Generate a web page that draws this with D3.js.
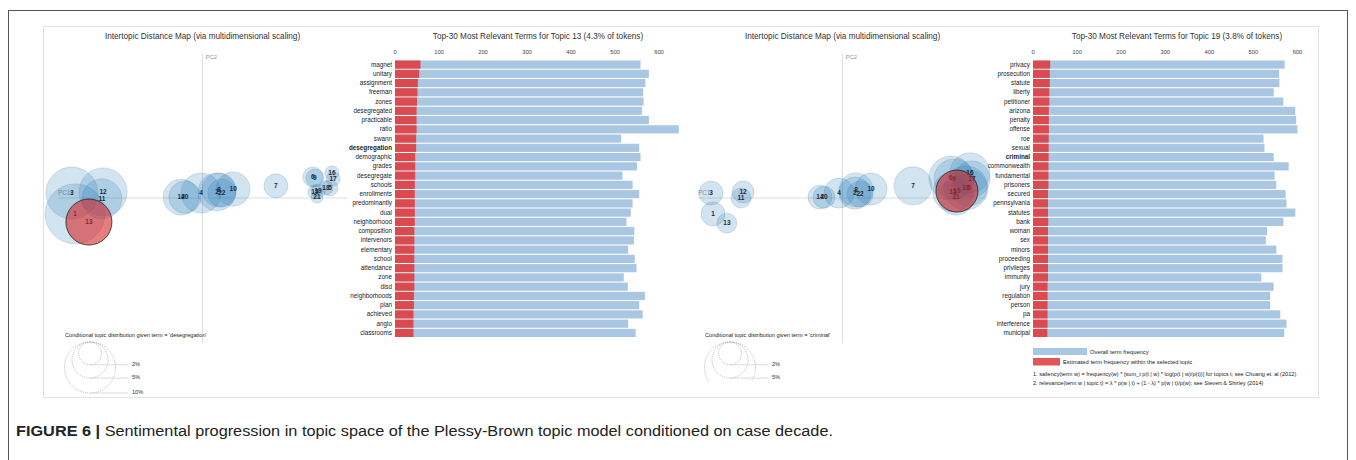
<!DOCTYPE html>
<html>
<head>
<meta charset="utf-8">
<script src="https://cdn.jsdelivr.net/npm/d3@7"></script>
<style>
  body { margin: 0; background: #fff; }
  svg { display: block; font-family: "Liberation Sans", Arial, Helvetica, sans-serif; }
</style>
</head>
<body>
<div id="chart"></div>
<script>
// Topic ids (same order in both maps)
const topicIds = [1, 2, 3, 4, 5, 6, 7, 8, 9, 10, 11, 12, 13, 14, 15, 16, 17, 18, 19, 20, 21, 22];

// Left map: PC1 / PC2 coordinates and relative topic size (% of tokens)
const leftPC1 = [-0.441, 0.050, -0.452, -0.005, 0.441, 0.382, 0.254, 0.057, 0.389, 0.106, -0.348,
                 -0.344, -0.393, -0.074, 0.389, 0.448, 0.452, 0.427, 0.400, -0.061, 0.396, 0.067];
const leftPC2 = [-0.055, 0.021, 0.017, 0.017, 0.035, 0.073, 0.042, 0.028, 0.069, 0.031, -0.003,
                 0.021, -0.083, 0.003, 0.021, 0.087, 0.066, 0.035, 0.024, 0.003, 0.003, 0.017];
const leftSize = [7.3, 2.9, 5.5, 3.25, 0.52, 0.81, 1.17, 2.35, 0.66, 2.35, 3.25,
                  4.7, 4.3, 2.6, 0.4, 0.4, 0.4, 0.4, 0.4, 2.1, 0.29, 1.6];

// Right map
const rightPC1 = [-0.448, 0.043, -0.455, -0.012, 0.438, 0.375, 0.244, 0.047, 0.386, 0.099, -0.351,
                  -0.344, -0.400, -0.078, 0.382, 0.441, 0.448, 0.427, 0.396, -0.064, 0.393, 0.061];
const rightPC2 = [-0.055, 0.017, 0.017, 0.017, 0.035, 0.069, 0.042, 0.028, 0.066, 0.031, 0.000,
                  0.021, -0.087, 0.003, 0.021, 0.087, 0.066, 0.035, 0.024, 0.003, 0.003, 0.014];
const rightSize = [1.24, 2.21, 1.24, 1.94, 2.79, 4.17, 3.11, 2.49, 3.45, 2.21, 0.86,
                   1.04, 0.86, 1.24, 3.45, 3.45, 2.79, 4.17, 3.8, 1.04, 2.79, 1.46];

// Left bar chart: topic 13
const leftTerms = ["magnet", "unitary", "assignment", "freeman", "zones", "desegregated", "practicable",
  "ratio", "swann", "desegregation", "demographic", "grades", "desegregate", "schools", "enrollments",
  "predominantly", "dual", "neighborhood", "composition", "intervenors", "elementary", "school",
  "attendance", "zone", "disd", "neighborhoods", "plan", "achieved", "anglo", "classrooms"];
const leftOverall = [558, 577, 569, 564, 565, 561, 577, 645, 514, 555, 558, 550, 517, 540, 555,
  540, 536, 526, 544, 543, 530, 545, 549, 520, 529, 568, 555, 563, 530, 547];
const leftInTopic = [58, 55, 52, 51, 50, 49, 49, 49, 48, 48, 46, 46, 46, 45, 45,
  45, 45, 45, 44, 44, 44, 44, 44, 44, 44, 43, 43, 42, 42, 42];

// Right bar chart: topic 19
const rightTerms = ["privacy", "prosecution", "statute", "liberty", "petitioner", "arizona", "penalty",
  "offense", "roe", "sexual", "criminal", "commonwealth", "fundamental", "prisoners", "secured",
  "pennsylvania", "statutes", "bank", "woman", "sex", "minors", "proceeding", "privileges",
  "immunity", "jury", "regulation", "person", "pa", "interference", "municipal"];
const rightOverall = [571, 558, 559, 546, 568, 595, 597, 600, 523, 525, 546, 580, 548, 552, 573,
  575, 595, 568, 531, 528, 552, 566, 566, 518, 546, 538, 538, 561, 575, 570];
const rightInTopic = [39, 38, 38, 37, 37, 36, 36, 36, 35.5, 35.5, 35.5, 35, 35, 35, 34,
  34, 34, 34.5, 34, 34, 34, 34, 34, 34, 33, 33, 33, 33, 33, 32.5];

const barTicks = [0, 100, 200, 300, 400, 500, 600];
const legendPct = [2, 5, 10];

const width = 1356, height = 460;
const blue = "#1f77b4", red = "#d62728";
const barBlue = "#a9c6e2", barRed = "#db4a4e";

const svg = d3.select("#chart").append("svg")
  .attr("width", width)
  .attr("height", height);

// outer frame and inner panel
svg.append("rect")
  .attr("x", 8.5).attr("y", 10.5)
  .attr("width", 1339).attr("height", 470)
  .attr("fill", "none").attr("stroke", "#555").attr("stroke-width", 1);
svg.append("rect")
  .attr("x", 43.5).attr("y", 26.5)
  .attr("width", 1275).attr("height", 371)
  .attr("fill", "none").attr("stroke", "#e2e2e2").attr("stroke-width", 1);

function drawPanel(opts) {
  const g = svg.append("g");
  const dx = opts.dx;

  // ---- intertopic distance map ----
  const x = d3.scaleLinear().domain([-0.5, 0.5]).range([58 + dx, 347 + dx]);
  const y = d3.scaleLinear().domain([-0.5, 0.5]).range([342.5, 53.5]);
  const selIdx = topicIds.indexOf(opts.selected);
  const r = d3.scaleSqrt().domain([0, opts.size[selIdx]]).range([0, opts.selR]);

  g.append("text")
    .attr("x", x(0)).attr("y", 39)
    .attr("text-anchor", "middle")
    .style("font-size", "8.2px").style("fill", "#333")
    .text("Intertopic Distance Map (via multidimensional scaling)");

  g.append("line")
    .attr("x1", x(0)).attr("x2", x(0))
    .attr("y1", y(0.5)).attr("y2", y(-0.5))
    .attr("stroke", "#ddd");
  g.append("line")
    .attr("x1", x(-0.5)).attr("x2", x(0.5))
    .attr("y1", y(0)).attr("y2", y(0))
    .attr("stroke", "#ddd");
  g.append("text").attr("x", x(-0.5)).attr("y", y(0) - 3)
    .style("font-size", "6.3px").style("fill", "#999").text("PC1");
  g.append("text").attr("x", x(0) + 3).attr("y", y(0.5) + 5)
    .style("font-size", "6px").style("fill", "#999").text("PC2");

  const topics = topicIds.map((id, i) => ({ id: id, x: opts.pc1[i], y: opts.pc2[i], s: opts.size[i] }));
  const others = topics.filter(d => d.id !== opts.selected);
  const sel = topics.filter(d => d.id === opts.selected);

  g.selectAll(".topic")
    .data(others)
    .enter()
    .append("circle")
    .attr("cx", d => x(d.x))
    .attr("cy", d => y(d.y))
    .attr("r", d => r(d.s))
    .attr("fill", blue).attr("fill-opacity", 0.2)
    .attr("stroke", "#4a7fb0").attr("stroke-opacity", 0.3).attr("stroke-width", 0.7);

  g.selectAll(".tlabel")
    .data(topics)
    .enter()
    .append("text")
    .attr("x", d => x(d.x))
    .attr("y", d => y(d.y) + 2.3)
    .attr("text-anchor", "middle")
    .style("font-size", "6.5px").style("font-weight", "bold").style("fill", "#1e2a38")
    .text(d => d.id);

  g.selectAll(".sel")
    .data(sel)
    .enter()
    .append("circle")
    .attr("cx", d => x(d.x))
    .attr("cy", d => y(d.y))
    .attr("r", d => r(d.s))
    .attr("fill", red).attr("fill-opacity", 0.6)
    .attr("stroke", "#222").attr("stroke-width", 0.8);

  // ---- conditional distribution legend ----
  const lg = g.append("g");
  if (opts.legendClip) {
    svg.append("clipPath").attr("id", "clip" + dx)
      .append("rect").attr("x", dx).attr("y", 0).attr("width", 400).attr("height", opts.legendClip);
    lg.attr("clip-path", `url(#clip${dx})`);
  }
  g.append("text")
    .attr("x", 65 + dx).attr("y", 337)
    .style("font-size", "5.6px").style("fill", "#222")
    .text(`Conditional topic distribution given term = '${opts.term}'`);
  const lr = d3.scaleSqrt().domain([0, 10]).range([0, 25.5]);
  const lcx = 90 + dx, ltop = 342;
  lg.selectAll("circle")
    .data(legendPct)
    .enter()
    .append("circle")
    .attr("cx", lcx).attr("cy", d => ltop + lr(d))
    .attr("r", d => lr(d))
    .attr("fill", "none").attr("stroke", "#999").attr("stroke-width", 0.7)
    .attr("stroke-dasharray", "1,1.2");
  lg.selectAll("line")
    .data(legendPct)
    .enter()
    .append("line")
    .attr("x1", lcx).attr("x2", lcx + 38)
    .attr("y1", d => ltop + 2 * lr(d)).attr("y2", d => ltop + 2 * lr(d))
    .attr("stroke", "#ccc").attr("stroke-width", 0.7);
  lg.selectAll("text")
    .data(legendPct)
    .enter()
    .append("text")
    .attr("x", lcx + 42).attr("y", d => ltop + 2 * lr(d) + 1)
    .style("font-size", "5.6px").style("fill", "#333")
    .text(d => d + "%");

  // ---- relevant terms bar chart ----
  const bx = d3.scaleLinear().domain([0, 600]).range([opts.bar0, opts.bar0 + opts.barW]);
  const by = d3.scaleBand().domain(opts.terms).range([60.5, 337]).paddingInner(0.12);

  g.append("text")
    .attr("x", opts.barTitleX).attr("y", 39)
    .attr("text-anchor", "middle")
    .style("font-size", "8.2px").style("fill", "#333")
    .text(`Top-30 Most Relevant Terms for Topic ${opts.selected} (${opts.size[selIdx]}% of tokens)`);

  g.selectAll(".tick")
    .data(barTicks)
    .enter()
    .append("text")
    .attr("x", d => bx(d)).attr("y", 54)
    .attr("text-anchor", "middle")
    .style("font-size", "5.8px").style("fill", "#444")
    .text(d => d);

  const rows = opts.terms.map((t, i) => ({ term: t, total: opts.overall[i], inTopic: opts.inTopic[i] }));

  g.selectAll(".overall")
    .data(rows)
    .enter()
    .append("rect")
    .attr("x", bx(0))
    .attr("y", d => by(d.term))
    .attr("width", d => bx(d.total) - bx(0))
    .attr("height", by.bandwidth())
    .attr("fill", barBlue);

  g.selectAll(".intopic")
    .data(rows)
    .enter()
    .append("rect")
    .attr("x", bx(0))
    .attr("y", d => by(d.term))
    .attr("width", d => bx(d.inTopic) - bx(0))
    .attr("height", by.bandwidth())
    .attr("fill", barRed);

  g.selectAll(".term")
    .data(rows)
    .enter()
    .append("text")
    .attr("x", bx(0) - 3)
    .attr("y", d => by(d.term) + by.bandwidth() / 2 + 2)
    .attr("text-anchor", "end")
    .style("font-size", "6.3px")
    .style("fill", "#222")
    .style("font-weight", d => d.term === opts.term ? "bold" : "normal")
    .text(d => d.term);

  return bx;
}

drawPanel({
  dx: 0, pc1: leftPC1, pc2: leftPC2, size: leftSize, selected: 13, selR: 23,
  term: "desegregation", terms: leftTerms, overall: leftOverall, inTopic: leftInTopic,
  bar0: 395, barW: 264, barTitleX: 538
});

const rbx = drawPanel({
  dx: 640, pc1: rightPC1, pc2: rightPC2, size: rightSize, selected: 19, selR: 21,
  term: "criminal", terms: rightTerms, overall: rightOverall, inTopic: rightInTopic,
  bar0: 1033, barW: 264.5, barTitleX: 1177, legendClip: 382
});

// bar legend (right panel only)
const leg = svg.append("g");
leg.append("rect").attr("x", rbx(0)).attr("y", 348).attr("width", 54).attr("height", 7).attr("fill", barBlue);
leg.append("text").attr("x", rbx(0) + 57).attr("y", 354)
  .style("font-size", "5.8px").style("fill", "#222").text("Overall term frequency");
leg.append("rect").attr("x", rbx(0)).attr("y", 358).attr("width", 27).attr("height", 7.5).attr("fill", "#e0585a");
leg.append("text").attr("x", rbx(0) + 30).attr("y", 364)
  .style("font-size", "5.8px").style("fill", "#222").text("Estimated term frequency within the selected topic");
leg.append("text").attr("x", rbx(0)).attr("y", 376)
  .style("font-size", "5.6px").style("fill", "#222")
  .text("1. saliency(term w) = frequency(w) * [sum_t p(t | w) * log(p(t | w)/p(t))] for topics t; see Chuang et. al (2012)");
leg.append("text").attr("x", rbx(0)).attr("y", 385)
  .style("font-size", "5.6px").style("fill", "#222")
  .text("2. relevance(term w | topic t) = \u03bb * p(w | t) + (1 - \u03bb) * p(w | t)/p(w); see Sievert & Shirley (2014)");

// caption
const cap = svg.append("text")
  .attr("x", 16).attr("y", 436)
  .attr("textLength", 817).attr("lengthAdjust", "spacingAndGlyphs")
  .style("font-size", "14px").style("fill", "#222");
cap.append("tspan").style("font-weight", "bold").text("FIGURE 6 | ");
cap.append("tspan").text("Sentimental progression in topic space of the Plessy-Brown topic model conditioned on case decade.");
</script>
</body>
</html>
